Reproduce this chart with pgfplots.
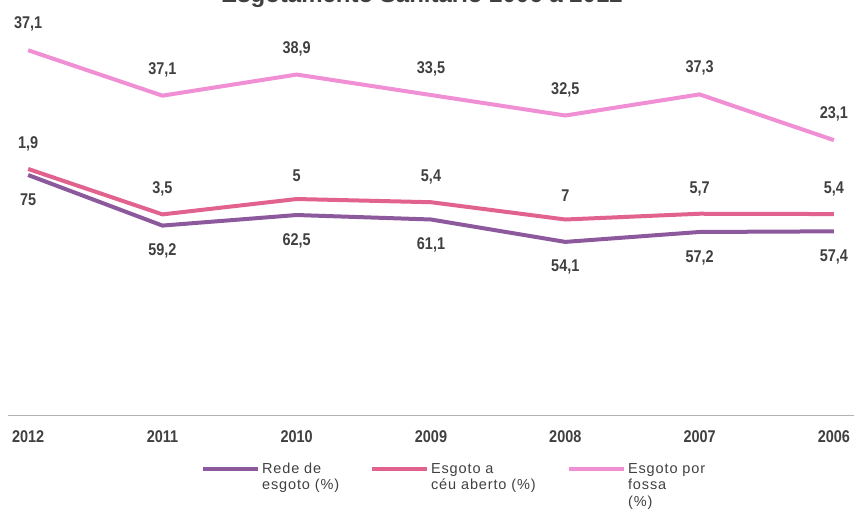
\documentclass[border=0pt]{standalone}
\usepackage{pgfplots}
\pgfplotsset{compat=1.18}
\usepackage{pgfplotstable}
\usepackage{fontspec}
\setmainfont{Liberation Sans}
\newfontfamily\narrow[FakeStretch=0.85]{Liberation Sans}
\newfontfamily\legfont[LetterSpace=6]{Liberation Sans}
\definecolor{rede}{HTML}{8C5A9C}
\definecolor{ceu}{HTML}{E2628F}
\definecolor{fossa}{HTML}{F08FD4}
\definecolor{lbl}{HTML}{404040}
\pgfplotstableread{
x r lr c lc f lf
0 75   75   1.9 1,9 37.1 37,1
1 59.2 59,2 3.5 3,5 37.1 37,1
2 62.5 62,5 5.0 5   38.9 38,9
3 61.1 61,1 5.4 5,4 33.5 33,5
4 54.1 54,1 7.0 7   32.5 32,5
5 57.2 57,2 5.7 5,7 37.3 37,3
6 57.4 57,4 5.4 5,4 23.1 23,1
}\data
\begin{document}
\begin{tikzpicture}
\begin{axis}[
  at={(8pt,94pt)}, anchor=south west,
  scale only axis, width=846pt, height=415pt,
  xmin=-0.15, xmax=6.15, ymin=0, ymax=129.7,
  stack plots=y,
  axis x line=bottom, axis y line=none,
  x axis line style={draw=black!30, line width=1pt, -},
  xtick={0,...,6}, xticklabels={2012,2011,2010,2009,2008,2007,2006},
  major tick length=0pt,
  xticklabel style={font=\narrow\fontsize{17}{19}\selectfont\bfseries, text=lbl, yshift=-12pt},
  point meta=explicit symbolic,
  every node near coord/.append style={font=\narrow\fontsize{17}{19}\selectfont\bfseries, text=lbl},
  legend columns=3,
  legend cell align=left,
  legend style={draw=none, fill=none, at={(axis description cs:0.228,-0.11)}, anchor=north west,
    inner sep=0pt, cells={anchor=base west},
    font=\legfont\fontsize{14.5}{16.5}\selectfont, text=black!75},
  legend image code/.code={\draw[#1, line width=4pt] (0pt,4.5pt) -- (55pt,4.5pt);},
]
\addplot[rede, line width=4pt, nodes near coords, every node near coord/.append style={anchor=north, yshift=-13pt}] table[x=x, y=r, meta=lr] {\data};
\addlegendentry{\parbox[t]{106pt}{Rede de\\esgoto (\%)}}
\addplot[ceu, line width=4pt, nodes near coords, every node near coord/.append style={anchor=south, yshift=12.5pt}] table[x=x, y=c, meta=lc] {\data};
\addlegendentry{\parbox[t]{134pt}{Esgoto a\\céu aberto (\%)}}
\addplot[fossa, line width=4pt, nodes near coords, every node near coord/.append style={anchor=south, yshift=13.5pt}] table[x=x, y=f, meta=lf] {\data};
\addlegendentry{\parbox[t]{90pt}{Esgoto por\\fossa\\(\%)}}
\end{axis}
\node[anchor=base, font=\bfseries\fontsize{24}{26}\selectfont, text=black!75] at (422pt,506pt) {Esgotamento Sanitário 2006 a 2012};
\pgfresetboundingbox
\path (0,0) rectangle (854pt,509pt);
\end{tikzpicture}
\end{document}
